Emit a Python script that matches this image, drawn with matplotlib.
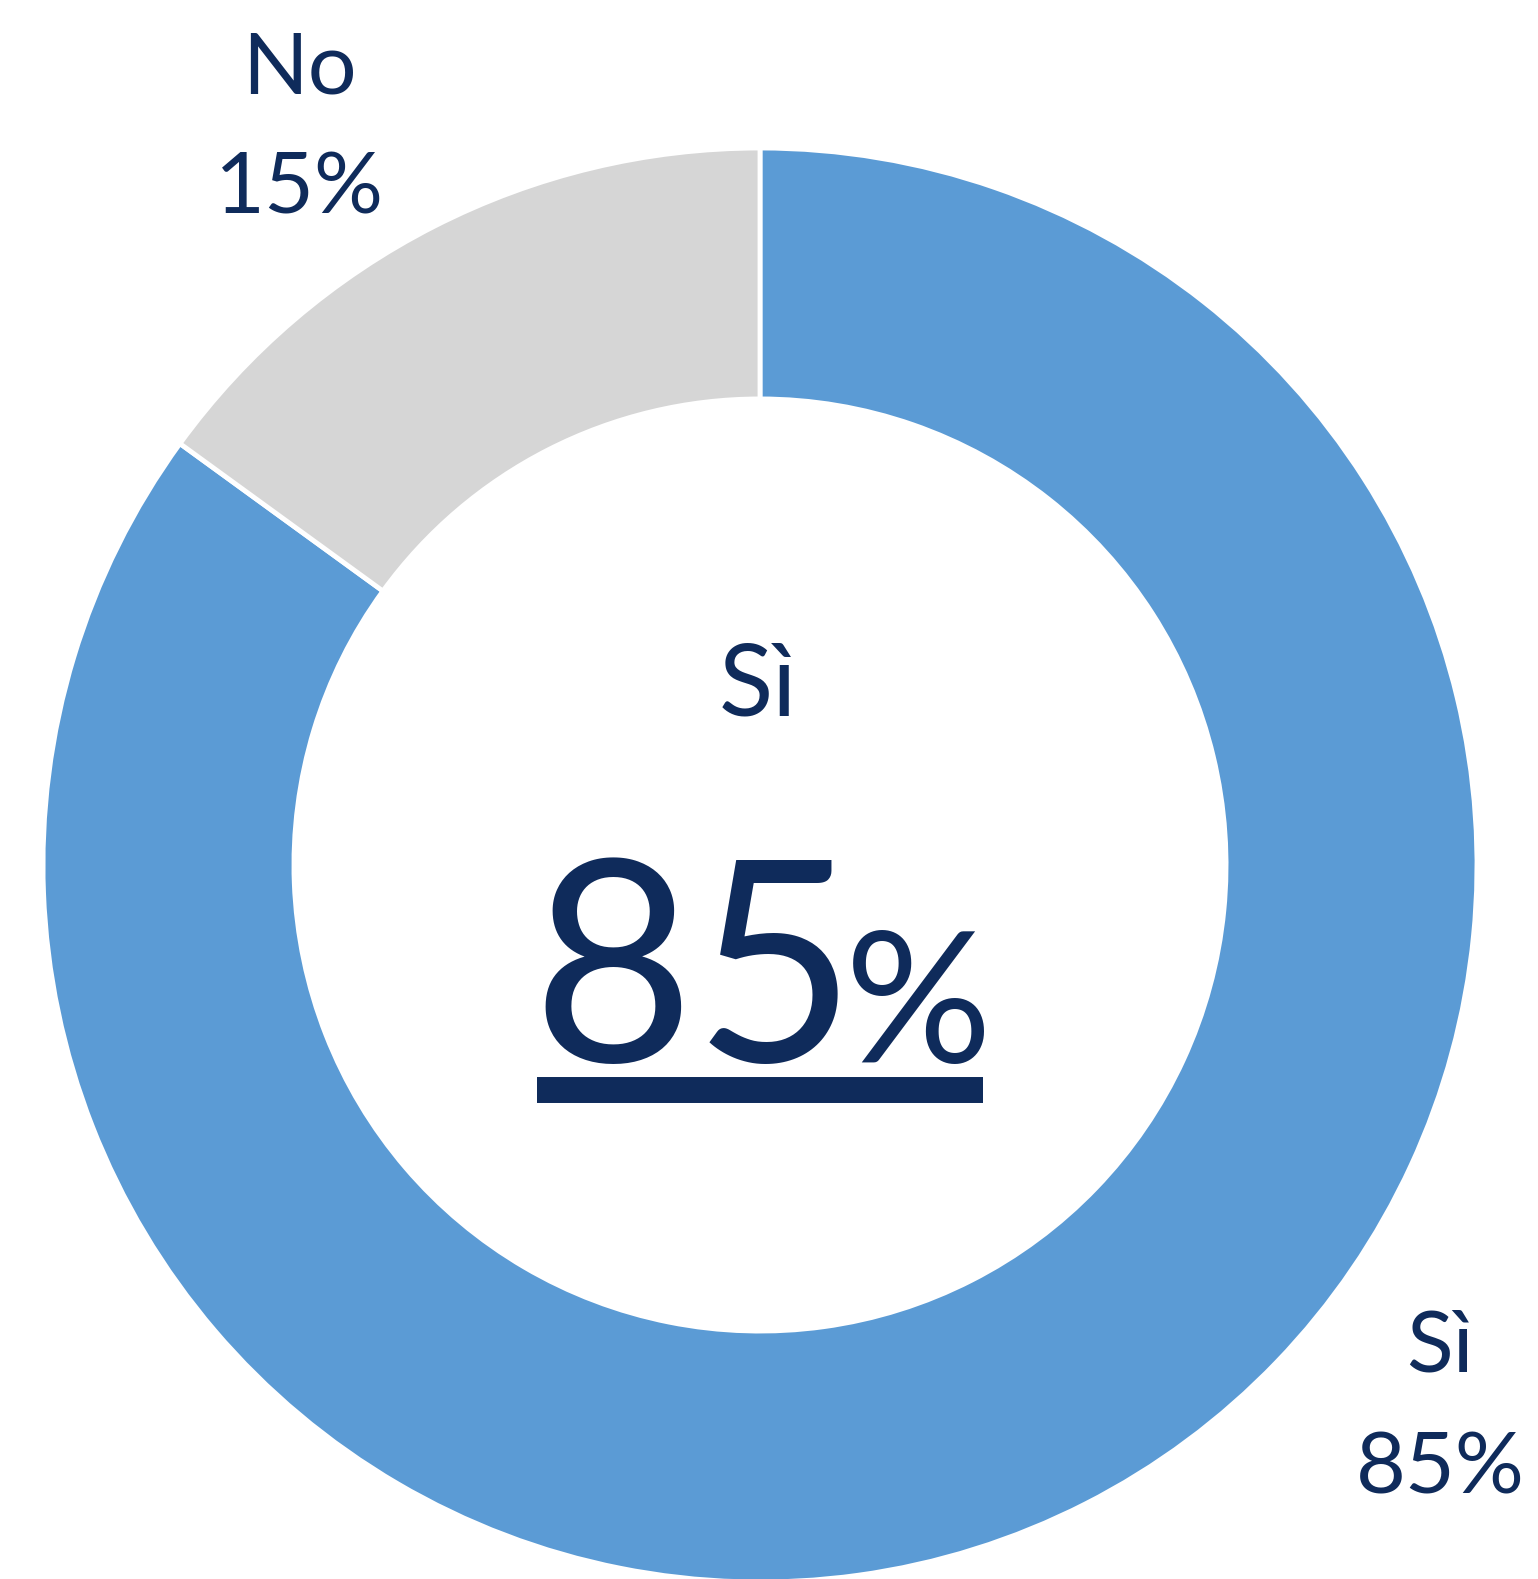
import matplotlib
matplotlib.use('Agg')
import matplotlib.pyplot as plt

# dati
categorie = ['Sì', 'No']
valori = [85, 15]
colori = ['#5B9BD5', '#D6D6D6']

blu_scuro = '#0F2B5B'
plt.rcParams['font.family'] = ['Lato', 'DejaVu Sans']

W, H = 1538, 1579
fig = plt.figure(figsize=(W / 100, H / 100), dpi=100)
ax = fig.add_axes([0, 0, 1, 1])

# ciambella
raggio = 717
cx, cy = 760, 714
ax.pie(valori, colors=colori, startangle=90, counterclock=False,
       radius=raggio, center=(cx, cy),
       wedgeprops=dict(width=raggio * 0.35, edgecolor='white', linewidth=3.5))
ax.set_xlim(0, W)
ax.set_ylim(0, H)
ax.set_aspect('auto')
ax.axis('off')

# etichette esterne
ax.text(299, 1486, categorie[1], ha='center', va='baseline', fontsize=62, color=blu_scuro)
ax.text(299, 1366, f'{valori[1]}%', ha='center', va='baseline', fontsize=62, color=blu_scuro)
ax.text(1440, 207, categorie[0], ha='center', va='baseline', fontsize=62, color=blu_scuro)
ax.text(1440, 86, f'{valori[0]}%', ha='center', va='baseline', fontsize=62, color=blu_scuro)

# testo centrale
ax.text(758, 864, categorie[0], ha='center', va='baseline', fontsize=72, color=blu_scuro)
ax.text(857, 517, str(valori[0]), ha='right', va='baseline', fontsize=202, color=blu_scuro)
ax.text(845, 517, '%', ha='left', va='baseline', fontsize=132, color=blu_scuro)
ax.hlines(H - 1090, 537, 983, color=blu_scuro, linewidth=18.7, capstyle='butt')

fig.savefig('out.png', dpi=100)
